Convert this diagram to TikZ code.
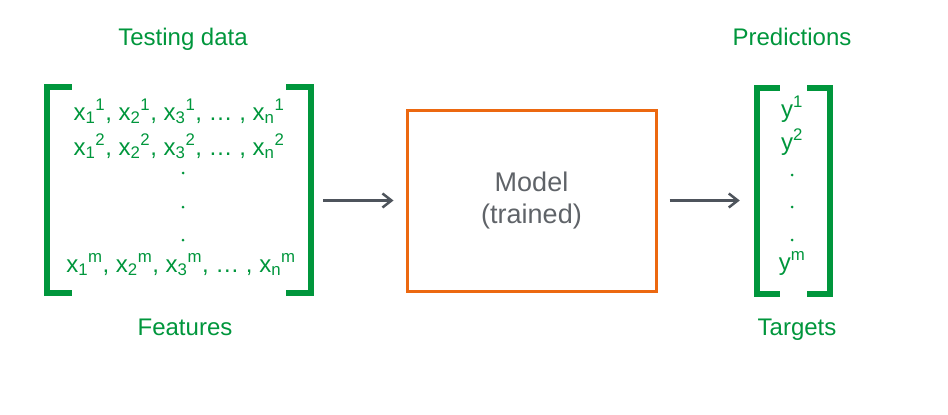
\documentclass[tikz,border=0pt]{standalone}
\usepackage{fontspec}
\setmainfont{Liberation Sans}
\usetikzlibrary{arrows.meta, calc}

\definecolor{datagreen}{RGB}{0,150,60}
\definecolor{modelorange}{RGB}{236,104,16}
\definecolor{arrowgray}{RGB}{78,84,92}
\definecolor{textgray}{RGB}{95,99,104}

\newcommand{\xe}[2]{x\textsubscript{#1}\textsuperscript{#2}}

\tikzset{
  lbl/.style={text=datagreen, font=\fontsize{24}{28}\selectfont, anchor=base},
  entry/.style={text=datagreen, font=\fontsize{24}{28}\selectfont, anchor=base},
  brk/.style={draw=datagreen, line width=6pt, miter limit=10},
  holder/.style={draw=none, inner sep=0pt},
  modelbox/.style={draw=modelorange, line width=3pt, inner sep=0pt, align=center,
    text=textgray, font=\fontsize{27}{32}\selectfont},
  arr/.style={draw=arrowgray, line width=2.5pt, -{Straight Barb[length=9pt,width=14pt,line width=2.5pt]}}
}

\begin{document}
\begin{tikzpicture}[x=1pt, y=-1pt]
    \useasboundingbox (0, 0) rectangle (948, 415);

    % testing data
    \node[holder, minimum width=264, minimum height=206] (feat) at (179, 190) {};
    \draw[brk] ([xshift=25]feat.north west) -- (feat.north west) -- (feat.south west) -- ([xshift=25]feat.south west);
    \draw[brk] ([xshift=-25]feat.north east) -- (feat.north east) -- (feat.south east) -- ([xshift=-25]feat.south east);

    \node[lbl] (testing) at (183, 45) {Testing data};
    \node[entry] (row1) at (179, 120) {\xe{1}{1}, \xe{2}{1}, \xe{3}{1}, … , \xe{n}{1}};
    \node[entry] (row2) at (179, 155) {\xe{1}{2}, \xe{2}{2}, \xe{3}{2}, … , \xe{n}{2}};
    \foreach \y in {173, 207, 240}
        \fill[datagreen] (183, \y) circle (1.5);
    \node[entry] (rowm) at (181, 272) {\xe{1}{m}, \xe{2}{m}, \xe{3}{m}, … , \xe{n}{m}};
    \node[lbl] (features) at (185, 335) {Features};

    % model
    \node[modelbox, minimum width=249, minimum height=181] (model) at (531.5, 200.5) {Model\\(trained)};

    % predictions
    \node[holder, minimum width=73, minimum height=206] (pred) at (793.5, 191) {};
    \draw[brk] ([xshift=23]pred.north west) -- (pred.north west) -- (pred.south west) -- ([xshift=23]pred.south west);
    \draw[brk] ([xshift=-23]pred.north east) -- (pred.north east) -- (pred.south east) -- ([xshift=-23]pred.south east);

    \node[lbl] (predictions) at (792, 45) {Predictions};
    \node[entry] (y1) at (792, 117) {y\textsuperscript{1}};
    \node[entry] (y2) at (792, 150) {y\textsuperscript{2}};
    \foreach \y in {175, 207, 240}
        \fill[datagreen] (792, \y) circle (1.5);
    \node[entry] (ym) at (792, 270) {y\textsuperscript{m}};
    \node[lbl] (targets) at (797, 335) {Targets};

    % arrows
    \draw[arr, shorten <=12pt, shorten >=12pt] (feat.east |- model.west) -- (model.west);
    \draw[arr, shorten <=12pt, shorten >=17pt] (model.east) -- (model.east -| pred.west);
\end{tikzpicture}
\end{document}
